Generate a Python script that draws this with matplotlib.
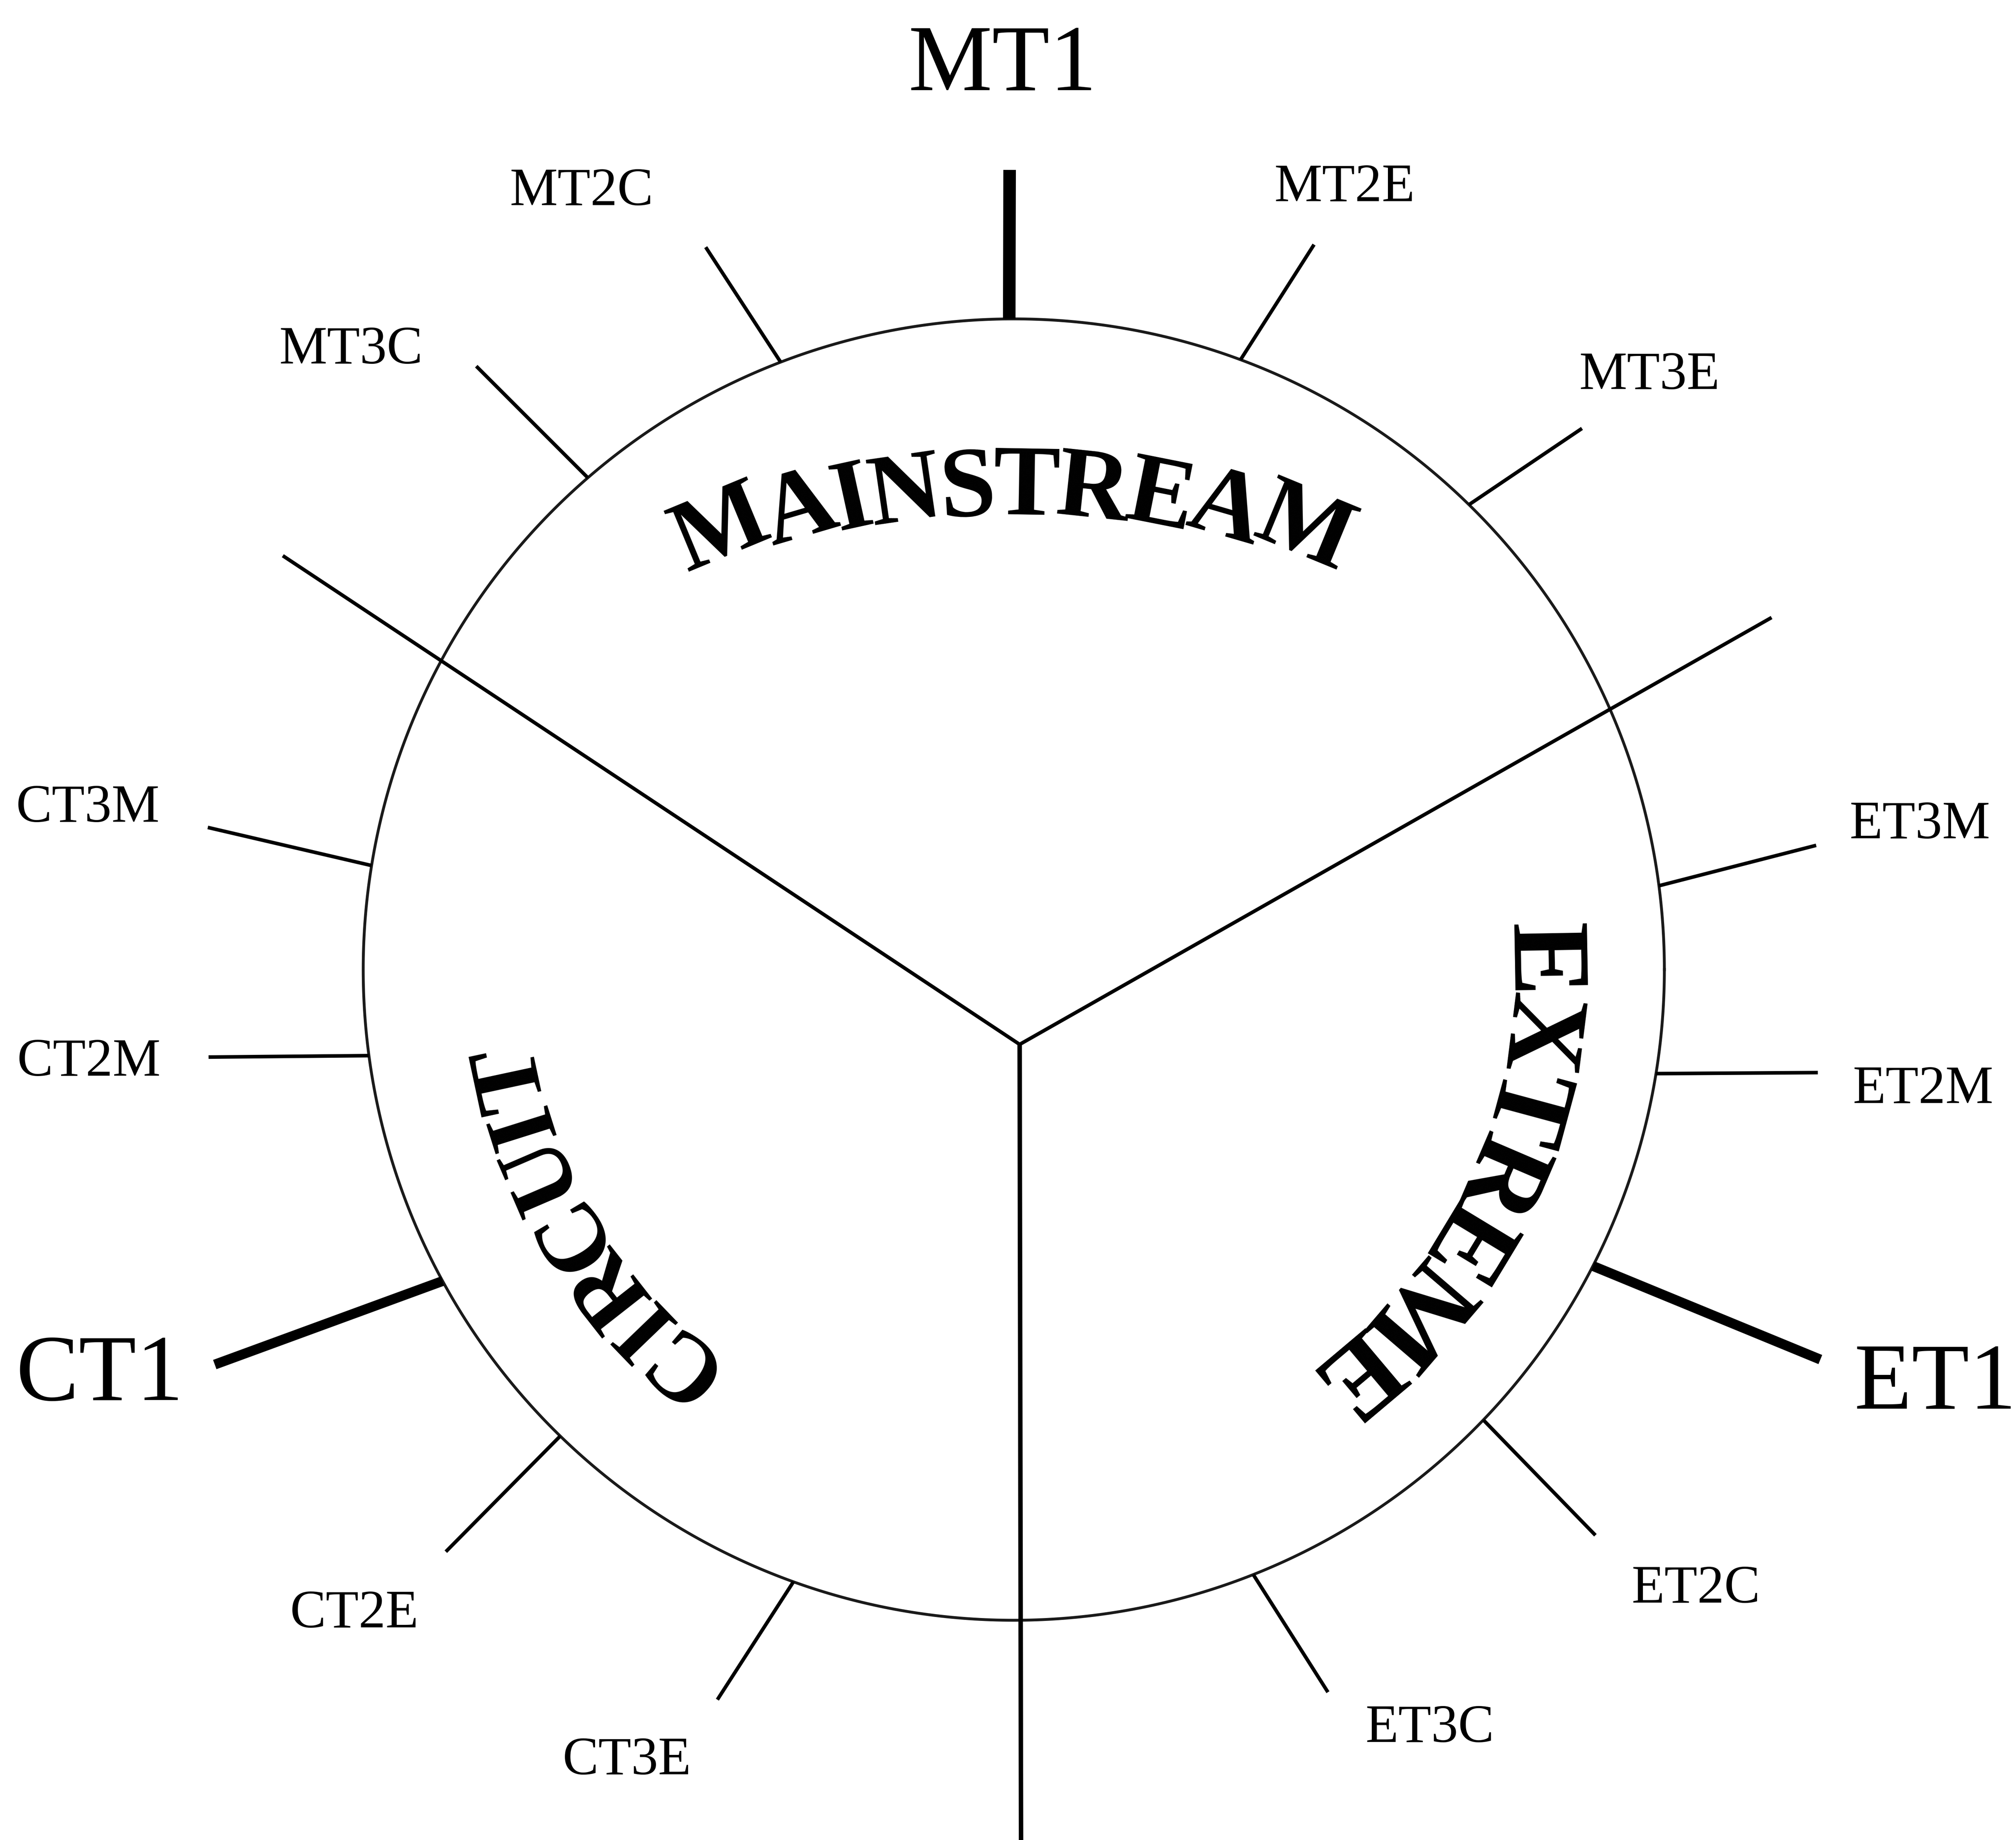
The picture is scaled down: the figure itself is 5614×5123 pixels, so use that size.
import numpy as np
import matplotlib.pyplot as plt

plt.rcParams['font.family'] = ['Liberation Serif', 'DejaVu Serif']

# labels round the circle (circle radius = 1, angles in degrees, 0 = right, ccw)
tick_labels = ['MT1', 'MT2C', 'MT2E', 'MT3C', 'MT3E',
               'CT1', 'CT2M', 'CT3M', 'CT2E', 'CT3E',
               'ET1', 'ET2M', 'ET3M', 'ET2C', 'ET3C']
# where each tick leaves the circle
tick_in_deg = [90.4, 111.0, 69.6, 130.9, 45.6,
               208.6, 187.6, 170.8, 225.8, 250.2,
               332.9, 350.8, 7.4, 316.2, 291.6]
# outer end of each tick
tick_out_deg = [90.3, 113.1, 67.5, 131.7, 43.6,
                206.3, 186.2, 170.0, 225.7, 247.9,
                334.2, 352.7, 8.8, 315.8, 293.5]
tick_out_r = [1.229, 1.207, 1.206, 1.242, 1.206,
              1.370, 1.245, 1.258, 1.250, 1.211,
              1.377, 1.246, 1.248, 1.247, 1.211]
# label positions
label_deg = [90.7, 118.9, 67.2, 136.7, 43.3,
             203.5, 185.4, 169.8, 224.1, 243.8,
             336.2, 352.8, 9.4, 318.0, 298.9]
label_r = [1.402, 1.375, 1.312, 1.400, 1.343,
           1.532, 1.428, 1.446, 1.411, 1.346,
           1.548, 1.409, 1.412, 1.411, 1.323]
major_lw = {'MT1': 8.4, 'CT1': 6.6, 'ET1': 6.6}

# the three dividing lines, from a common hub
hub = (0.009, -0.115)
spoke_deg = [146.45, 29.58, -89.9]
spoke_len = [1.359, 1.329, 1.40]
spoke_lw = [2.4, 2.4, 3.0]

# curved words: letters placed on arcs, tops facing outward
words = ['MAINSTREAM', 'EXTREME', 'CIRCUIT']
word_centre = [(0.0, -0.889), (0.0, 0.0), (0.0, 0.0)]
word_r = [1.642, 0.826, 0.803]
word_deg = [[106.1, 101.7, 98.8, 95.9, 92.5, 89.3, 85.7, 82.0, 78.4, 74.0],
            [1.0, -7.1, -15.1, -23.2, -31.2, -40.6, -49.9],
            [229.6, 223.9, 218.1, 210.7, 203.3, 197.5, 192.1]]
word_turn = [1.4, 1.0, 1.0]   # letter tilt per degree along the arc
word_size = [67, 74, 65]

fig = plt.figure(figsize=(5614 / 300, 5123 / 300), dpi=300)
ax = fig.add_axes([0, 0, 1, 1])
ax.set_xlim(-1.5583, 1.5405)
ax.set_ylim(-1.3377, 1.4901)
ax.axis('off')

# circle
t = np.linspace(0, 2 * np.pi, 721)
ax.plot(np.cos(t), np.sin(t), color='#1a1a1a', lw=1.9)

# ticks and their labels
for i, lab in enumerate(tick_labels):
    a_in = np.radians(tick_in_deg[i])
    a_out = np.radians(tick_out_deg[i])
    ax.plot([np.cos(a_in), tick_out_r[i] * np.cos(a_out)],
            [np.sin(a_in), tick_out_r[i] * np.sin(a_out)],
            color='black', lw=major_lw.get(lab, 2.4), solid_capstyle='butt')
    a_lab = np.radians(label_deg[i])
    ax.text(label_r[i] * np.cos(a_lab), label_r[i] * np.sin(a_lab), lab,
            ha='center', va='center_baseline',
            fontsize=63 if lab in major_lw else 36, color='black')

# dividing lines
for d, L, w in zip(spoke_deg, spoke_len, spoke_lw):
    a = np.radians(d)
    ax.plot([hub[0], hub[0] + L * np.cos(a)], [hub[1], hub[1] + L * np.sin(a)],
            color='black', lw=w, solid_capstyle='butt')

# curved words
for w, (cx, cy), R, angs, k, fs in zip(words, word_centre, word_r, word_deg,
                                       word_turn, word_size):
    for ch, d in zip(w, angs):
        a = np.radians(d)
        ax.text(cx + R * np.cos(a), cy + R * np.sin(a), ch,
                rotation=k * (d - 90), rotation_mode='anchor',
                ha='center', va='center_baseline',
                fontsize=fs, fontweight='bold', color='black')

fig.savefig('out.png', dpi=300)
